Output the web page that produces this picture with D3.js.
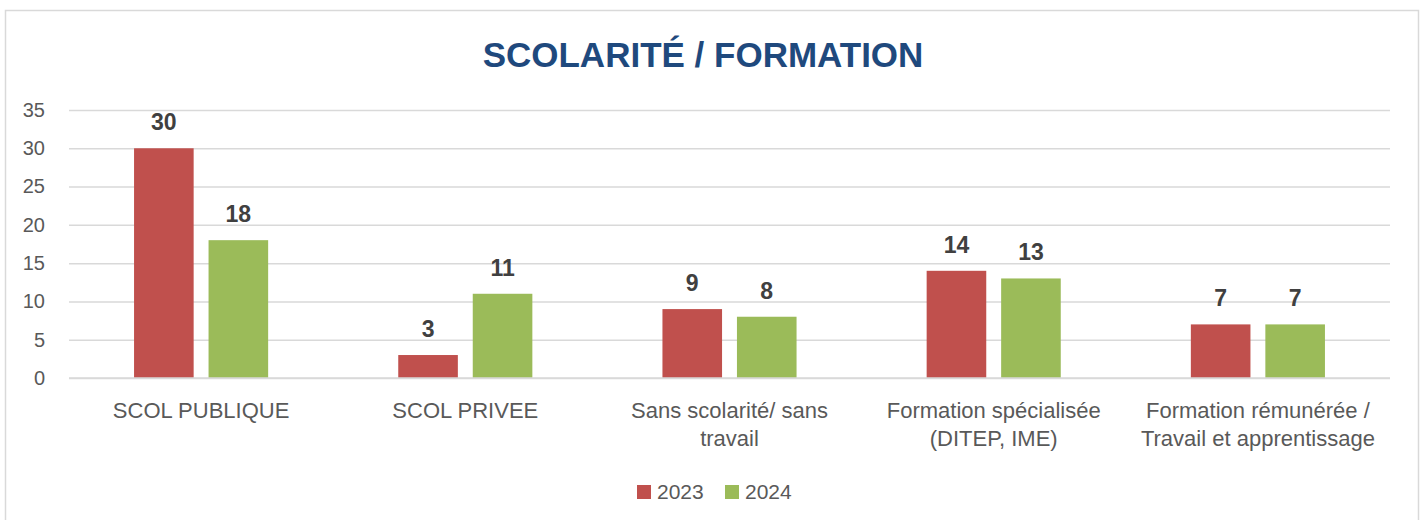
<!DOCTYPE html>
<html>
<head>
<meta charset="utf-8">
<script src="https://cdn.jsdelivr.net/npm/d3@7"></script>
<style>
  body { margin: 0; background: #fff; }
  svg { display: block; font-family: "Liberation Sans", Arial, sans-serif; }
</style>
</head>
<body>
<svg id="chart"></svg>
<script>
// chart data
const categories = [
  ["SCOL PUBLIQUE"],
  ["SCOL PRIVEE"],
  ["Sans scolarité/ sans", "travail"],
  ["Formation spécialisée", "(DITEP, IME)"],
  ["Formation rémunérée /", "Travail et apprentissage"]
];
const seriesNames = ["2023", "2024"];
const values2023 = [30, 3, 9, 14, 7];
const values2024 = [18, 11, 8, 13, 7];
const yTicks = [0, 5, 10, 15, 20, 25, 30, 35];

const colors = ["#C0504D", "#9BBB59"];
const W = 1427, H = 520;
const margin = { top: 110, right: 37, bottom: 142, left: 69 };
const width = W - margin.left - margin.right;
const height = H - margin.top - margin.bottom;

const svg = d3.select("#chart").attr("width", W).attr("height", H);

// outer frame
svg.append("rect")
   .attr("x", 5.5).attr("y", 10.5)
   .attr("width", 1413).attr("height", 520)
   .attr("fill", "none").attr("stroke", "#D9D9D9").attr("stroke-width", 1.5);

svg.append("text")
   .attr("x", 703).attr("y", 67)
   .attr("text-anchor", "middle")
   .attr("font-size", 35).attr("font-weight", "bold")
   .attr("fill", "#1F497D")
   .text("SCOLARITÉ / FORMATION");

const g = svg.append("g").attr("transform", `translate(${margin.left},${margin.top})`);

const idx = d3.range(categories.length);
const x = d3.scaleBand().domain(idx).range([0, width]).paddingInner(0).paddingOuter(0);
const x1 = d3.scaleBand().domain([0, 1]).range([0, 134 / 264 * x.bandwidth()]).paddingInner(0.2);
const y = d3.scaleLinear().domain([0, 35]).range([height, 0]);

// gridlines
g.append("g")
 .call(d3.axisLeft(y).tickValues(yTicks).tickSize(-width).tickFormat(""))
 .call(a => a.select(".domain").remove())
 .selectAll("line").attr("stroke", "#D9D9D9").attr("stroke-width", 1.5);

// y labels
g.append("g")
 .call(d3.axisLeft(y).tickValues(yTicks).tickSize(0).tickPadding(24))
 .call(a => a.select(".domain").remove())
 .selectAll("text")
 .attr("font-size", 20).attr("fill", "#595959").attr("font-family", "'Liberation Sans', Arial, sans-serif");

const series = [values2023, values2024];
const groupOffset = (x.bandwidth() - x1.range()[1]) / 2;

series.forEach((vals, s) => {
  g.append("g").selectAll("rect")
   .data(idx)
   .join("rect")
   .attr("x", i => x(i) + groupOffset + x1(s))
   .attr("y", i => y(vals[i]))
   .attr("width", x1.bandwidth())
   .attr("height", i => y(0) - y(vals[i]))
   .attr("fill", colors[s]);

  g.append("g").selectAll("text")
   .data(idx)
   .join("text")
   .attr("x", i => x(i) + groupOffset + x1(s) + x1.bandwidth() / 2)
   .attr("y", i => y(vals[i]) - 18)
   .attr("text-anchor", "middle")
   .attr("font-size", 23).attr("font-weight", "bold")
   .attr("fill", "#404040")
   .text(i => vals[i]);
});

// x axis line
g.append("line")
 .attr("x1", 0).attr("x2", width)
 .attr("y1", y(0)).attr("y2", y(0))
 .attr("stroke", "#D9D9D9").attr("stroke-width", 1.5);

// category labels
const cat = g.append("g").selectAll("text")
  .data(idx)
  .join("text")
  .attr("text-anchor", "middle")
  .attr("font-size", 22)
  .attr("fill", "#595959");
cat.each(function(i) {
  const t = d3.select(this);
  categories[i].forEach((line, k) => {
    t.append("tspan")
     .attr("x", x(i) + x.bandwidth() / 2)
     .attr("y", height + 40 + k * 28)
     .text(line);
  });
});

// legend
const legend = svg.append("g").attr("transform", "translate(637,485)");
seriesNames.forEach((name, s) => {
  const lg = legend.append("g").attr("transform", `translate(${s * 88},0)`);
  lg.append("rect").attr("width", 14).attr("height", 14).attr("fill", colors[s]);
  lg.append("text").attr("x", 20).attr("y", 14)
    .attr("font-size", 21).attr("fill", "#595959").text(name);
});
</script>
</body>
</html>
